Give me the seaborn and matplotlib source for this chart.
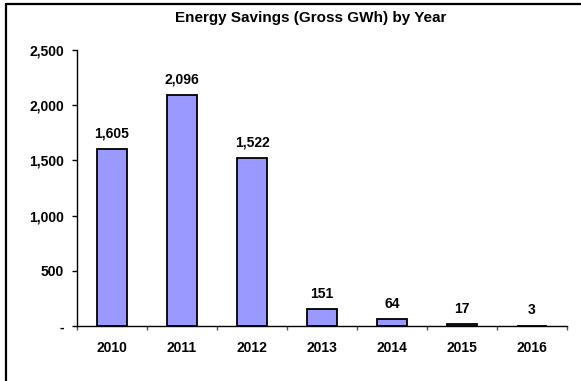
import matplotlib
matplotlib.use("Agg")
import matplotlib.pyplot as plt
from matplotlib.lines import Line2D
from matplotlib.ticker import FuncFormatter, FixedLocator
import seaborn as sns
import pandas as pd

# Annual gross energy savings
years = ["2010", "2011", "2012", "2013", "2014", "2015", "2016"]
savings_gwh = [1605, 2096, 1522, 151, 64, 17, 3]
y_ticks = [0, 500, 1000, 1500, 2000, 2500]
title = "Energy Savings (Gross GWh) by Year"

df = pd.DataFrame({"Year": years, "GWh": savings_gwh})

sns.set_style("white")
plt.rcParams["font.family"] = ["Liberation Sans", "DejaVu Sans"]
plt.rcParams["font.weight"] = "bold"
plt.rcParams["text.color"] = "black"
plt.rcParams["xtick.color"] = "black"
plt.rcParams["ytick.color"] = "black"
plt.rcParams["xtick.labelcolor"] = "black"
plt.rcParams["ytick.labelcolor"] = "black"

fig = plt.figure(figsize=(5.81, 3.81), dpi=100)
ax = fig.add_axes([77 / 581, 1 - 326 / 381, 490 / 581, 276 / 381])

sns.barplot(data=df, x="Year", y="GWh", color="#9999FF", edgecolor="black",
            linewidth=1.3, width=0.42, saturation=1, ax=ax)

ax.set_xlim(-0.5, len(years) - 0.5)
ax.set_ylim(0, 2500)
ax.set_xlabel("")
ax.set_ylabel("")

# y axis: comma thousands, dash for zero
ax.yaxis.set_major_locator(FixedLocator(y_ticks))
ax.yaxis.set_major_formatter(
    FuncFormatter(lambda v, _: "-" if v == 0 else f"{int(v):,}"))
ax.tick_params(axis="y", left=True, direction="out", length=3.5, width=1,
               color="black", labelcolor="black", pad=6, labelsize=10)

# x axis: labels at centres, tick marks between categories
ax.tick_params(axis="x", which="major", bottom=True, length=0, pad=11,
               labelsize=10, labelcolor="black")
ax.set_xticks([i - 0.5 for i in range(len(years) + 1)], minor=True)
ax.tick_params(axis="x", which="minor", bottom=True, direction="out",
               length=3, width=1, color="#555555")
for lbl in ax.get_xticklabels() + ax.get_yticklabels():
    lbl.set_fontweight("bold")

for side in ["top", "right"]:
    ax.spines[side].set_visible(False)
for side in ["left", "bottom"]:
    ax.spines[side].set_color("black")
    ax.spines[side].set_linewidth(1.0)

ax.bar_label(ax.containers[0], labels=[f"{v:,}" for v in savings_gwh],
             padding=6, fontsize=10, fontweight="bold", color="black")

fig.text(311 / 581, 1 - 18 / 381, title, ha="center", va="center",
         fontsize=11, fontweight="bold", color="black")

# outer chart frame (top and left edges)
fig.add_artist(Line2D([5.5 / 581, 1], [1 - 3.5 / 381, 1 - 3.5 / 381],
                      transform=fig.transFigure, color="black", lw=1.6))
fig.add_artist(Line2D([5.5 / 581, 5.5 / 581], [0, 1 - 3.5 / 381],
                      transform=fig.transFigure, color="black", lw=1.6))

fig.savefig("out.png", dpi=100)
